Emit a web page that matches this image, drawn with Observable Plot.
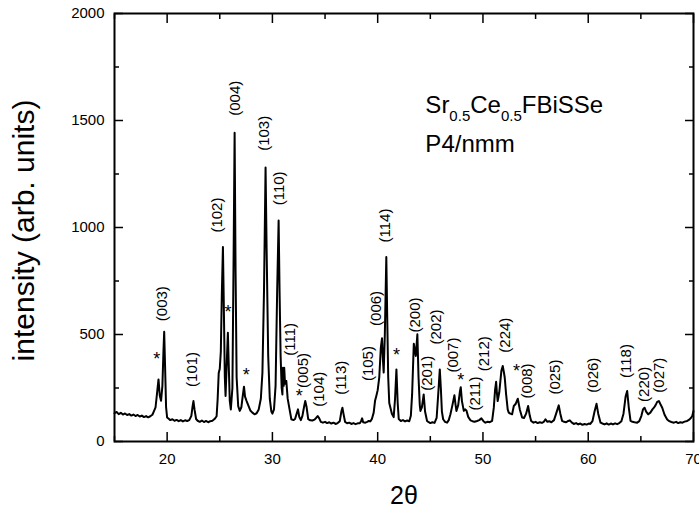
<!DOCTYPE html>
<html>
<head>
<meta charset="utf-8">
<script src="https://cdn.jsdelivr.net/npm/d3@7"></script>
<script src="https://cdn.jsdelivr.net/npm/@observablehq/plot@0.6"></script>
<style>
  html, body { margin: 0; padding: 0; background: white; overflow: hidden; }
</style>
</head>
<body>
<div id="chart"></div>
<script>
// ---- data ----
const twoTheta = [
  15.0,15.2,15.4,15.6,15.8,16.0,16.2,16.4,16.6,16.8,17.0,17.2,17.4,17.6,17.8,18.0,18.2,18.4,18.6,18.75,
  18.9,19.05,19.18,19.3,19.42,19.55,19.65,19.72,19.8,19.9,20.0,20.15,20.3,20.5,20.7,20.9,21.1,21.3,21.5,21.7,
  21.9,22.1,22.3,22.42,22.5,22.6,22.75,22.9,23.1,23.3,23.5,23.7,23.9,24.1,24.3,24.5,24.7,24.8,24.9,25.0,
  25.1,25.2,25.3,25.38,25.48,25.55,25.65,25.77,25.85,25.95,26.05,26.2,26.32,26.41,26.5,26.6,26.75,26.9,27.05,27.15,
  27.3,27.4,27.55,27.7,27.9,28.1,28.3,28.5,28.7,28.9,29.05,29.2,29.35,29.45,29.6,29.75,29.9,30.0,30.15,30.3,
  30.45,30.59,30.68,30.78,30.88,30.95,31.0,31.07,31.12,31.2,31.32,31.45,31.6,31.8,32.0,32.15,32.3,32.43,32.55,32.7,
  32.85,33.0,33.12,33.25,33.4,33.6,33.8,34.0,34.15,34.3,34.45,34.6,34.8,35.0,35.2,35.4,35.6,35.8,36.0,36.2,
  36.4,36.55,36.65,36.75,36.9,37.1,37.3,37.5,37.7,37.9,38.1,38.3,38.42,38.52,38.62,38.83,39.0,39.15,39.3,39.45,
  39.62,39.75,39.87,40.0,40.15,40.3,40.41,40.5,40.57,40.68,40.82,40.9,41.0,41.1,41.21,41.35,41.52,41.65,41.78,41.9,
  42.0,42.2,42.4,42.6,42.8,43.0,43.15,43.27,43.43,43.55,43.62,43.77,43.88,44.0,44.06,44.2,44.37,44.5,44.69,44.85,
  45.0,45.2,45.4,45.6,45.75,45.9,46.0,46.1,46.22,46.4,46.59,46.75,46.91,47.1,47.29,47.4,47.48,47.65,47.8,47.89,
  48.0,48.18,48.3,48.43,48.6,48.81,49.0,49.2,49.44,49.65,49.85,50.05,50.23,50.45,50.65,50.87,51.03,51.15,51.25,51.32,
  51.4,51.55,51.75,51.88,52.0,52.07,52.2,52.35,52.45,52.6,52.77,52.93,53.1,53.31,53.5,53.72,53.9,54.1,54.29,54.45,
  54.58,54.8,55.0,55.2,55.4,55.6,55.78,55.94,56.1,56.3,56.5,56.75,56.95,57.2,57.35,57.52,57.7,57.9,58.1,58.25,
  58.45,58.63,58.85,59.05,59.25,59.45,59.65,59.85,60.05,60.2,60.4,60.6,60.79,60.95,61.17,61.35,61.55,61.75,61.95,62.15,
  62.35,62.55,62.75,62.95,63.15,63.35,63.55,63.7,63.85,64.02,64.2,64.4,64.65,64.85,65.05,65.2,65.35,65.5,65.7,65.9,
  66.1,66.24,66.4,66.55,66.71,66.85,67.03,67.25,67.5,67.7,67.9,68.14,68.35,68.55,68.75,68.95,69.15,69.4,69.6,69.75,
  69.88,70.0
];
const intensity = [
  132,138,128,134,126,131,124,128,121,126,119,124,117,121,114,119,113,118,125,142,
  160,230,290,215,190,260,420,513,360,160,112,106,100,104,97,101,95,100,94,99,
  96,100,120,165,189,150,105,97,92,98,91,96,90,95,97,105,118,200,320,340,
  420,700,909,650,300,213,350,508,360,190,150,250,900,1443,800,300,165,143,160,200,
  256,210,189,170,145,135,127,132,150,200,320,700,1280,900,400,200,140,130,150,260,
  700,1033,700,400,250,220,345,260,345,270,283,200,158,104,100,105,130,150,115,100,
  120,160,189,160,105,99,98,102,110,119,108,92,88,92,86,90,84,88,82,86,
  95,140,158,130,92,85,88,82,86,81,85,85,95,108,90,88,92,96,94,105,
  135,190,213,240,300,440,482,380,322,500,862,600,300,180,158,130,114,200,337,180,
  105,96,100,94,98,95,120,220,457,420,400,501,300,170,143,160,220,140,96,90,
  86,90,87,110,220,337,250,140,104,92,88,100,127,170,216,170,143,170,230,254,
  190,143,150,145,115,99,95,92,96,100,108,95,88,92,90,96,158,240,279,230,
  189,230,330,353,320,298,220,150,135,130,127,166,175,200,150,112,110,130,166,120,
  96,88,92,86,90,87,92,104,92,95,90,100,130,169,130,96,92,90,96,99,
  88,82,86,80,84,78,82,79,84,82,95,140,176,130,88,84,80,85,79,84,
  80,85,81,86,95,130,210,236,160,96,92,90,88,95,120,150,158,140,127,135,
  150,158,170,185,189,175,158,125,103,95,91,88,92,86,90,88,93,96,102,110,
  119,142
];

// Miller-index labels (centre positions)
const hklText = ["(003)","(101)","(102)","(004)","(103)","(110)","(111)","(005)","(104)","(113)",
                 "(105)","(006)","(114)","(200)","(201)","(202)","(007)","(211)","(212)","(224)",
                 "(008)","(025)","(026)","(118)","(220)","(027)"];
const hklX = [19.5,22.41,24.75,26.45,29.26,30.65,31.7,32.97,34.49,36.55,
              39.14,39.87,40.73,43.59,44.69,45.58,47.16,49.29,50.14,52.07,
              54.2,56.9,60.44,63.6,65.28,66.7];
const hklY = [644,337,1058,1604,1440,1183,477,332,244,298,
              364,622,1009,591,319,535,404,224,410,497,
              283,301,310,376,267,310];

// impurity markers
const starX = [19.02,25.77,27.52,32.55,41.78,47.89,53.18];
const starY = [403,625,329,228,423,306,345];

// axes ticks
const xMajor = [20,30,40,50,60,70];
const xMinor = [15,25,35,45,55,65];
const yMajor = [0,500,1000,1500,2000];
const yMinor = [250,750,1250,1750];

const formula = "Sr0.5Ce0.5FBiSSe";
const formulaParts = [["Sr",false],["0.5",true],["Ce",false],["0.5",true],["FBiSSe",false]];
const spaceGroup = "P4/nmm";

const font = "'Liberation Sans', Arial, Helvetica, sans-serif";
const fmt = d => String(d);

const chart = Plot.plot({
  width: 699,
  height: 511,
  marginLeft: 114,
  marginRight: 6,
  marginTop: 13,
  marginBottom: 70,
  x: {domain: [15, 70]},
  y: {domain: [0, 2000]},
  style: {fontFamily: font, color: "black", background: "white"},
  marks: [
    // inward ticks
    Plot.axisX(xMajor, {anchor: "bottom", tickSize: 9, dy: -9, fill: "none", label: null, strokeWidth: 1.5}),
    Plot.axisX(xMinor, {anchor: "bottom", tickSize: 5, dy: -5, fill: "none", label: null, strokeWidth: 1.5}),
    Plot.axisX(xMajor, {anchor: "top", tickSize: 9, dy: 9, fill: "none", label: null, strokeWidth: 1.5}),
    Plot.axisX(xMinor, {anchor: "top", tickSize: 5, dy: 5, fill: "none", label: null, strokeWidth: 1.5}),
    Plot.axisY(yMajor, {anchor: "left", tickSize: 9, dx: 9, fill: "none", label: null, strokeWidth: 1.5}),
    Plot.axisY(yMinor, {anchor: "left", tickSize: 5, dx: 5, fill: "none", label: null, strokeWidth: 1.5}),
    Plot.axisY(yMajor, {anchor: "right", tickSize: 9, dx: -9, fill: "none", label: null, strokeWidth: 1.5}),
    Plot.axisY(yMinor, {anchor: "right", tickSize: 5, dx: -5, fill: "none", label: null, strokeWidth: 1.5}),
    // tick labels
    Plot.axisX(xMajor, {anchor: "bottom", tickSize: 0, tickPadding: 12, fontSize: 15, label: null, tickFormat: fmt}),
    Plot.axisY(yMajor, {anchor: "left", tickSize: 0, tickPadding: 10, fontSize: 15, label: null, tickFormat: fmt}),
    // axis titles
    Plot.text(["intensity (arb. units)"], {frameAnchor: "left", textAnchor: "middle", rotate: -90, dx: -90, dy: 3, fontSize: 30}),
    Plot.text(["2θ"], {frameAnchor: "bottom", textAnchor: "middle", lineAnchor: "bottom", dy: 62, fontSize: 25}),
    // pattern
    Plot.line(intensity, {x: twoTheta, y: intensity, stroke: "black", strokeWidth: 2}),
    // labels
    Plot.text(hklText, {x: hklX, y: hklY, text: hklText, rotate: -90, fontSize: 15}),
    Plot.text(starX, {x: starX, y: starY, text: () => "*", fontSize: 18, dy: 4}),
    // annotation
    Plot.text([formula], {x: [44.53], y: [1536], textAnchor: "start", lineAnchor: "bottom", fontSize: 24}),
    Plot.text([spaceGroup], {x: [44.53], y: [1352], textAnchor: "start", lineAnchor: "bottom", fontSize: 24}),
    Plot.frame({stroke: "black", strokeWidth: 2})
  ]
});

// typeset subscripts in the formula
d3.select(chart).selectAll("text").filter(function() { return this.textContent === formula; })
  .each(function() {
    const t = d3.select(this);
    t.text(null);
    let shifted = false;
    for (const [s, sub] of formulaParts) {
      const ts = t.append("tspan").text(s);
      if (sub) {
        ts.attr("font-size", 15);
        if (!shifted) { ts.attr("dy", 8); shifted = true; }
      } else if (shifted) {
        ts.attr("dy", -8); shifted = false;
      }
    }
  });

document.getElementById("chart").appendChild(chart);
</script>
</body>
</html>
